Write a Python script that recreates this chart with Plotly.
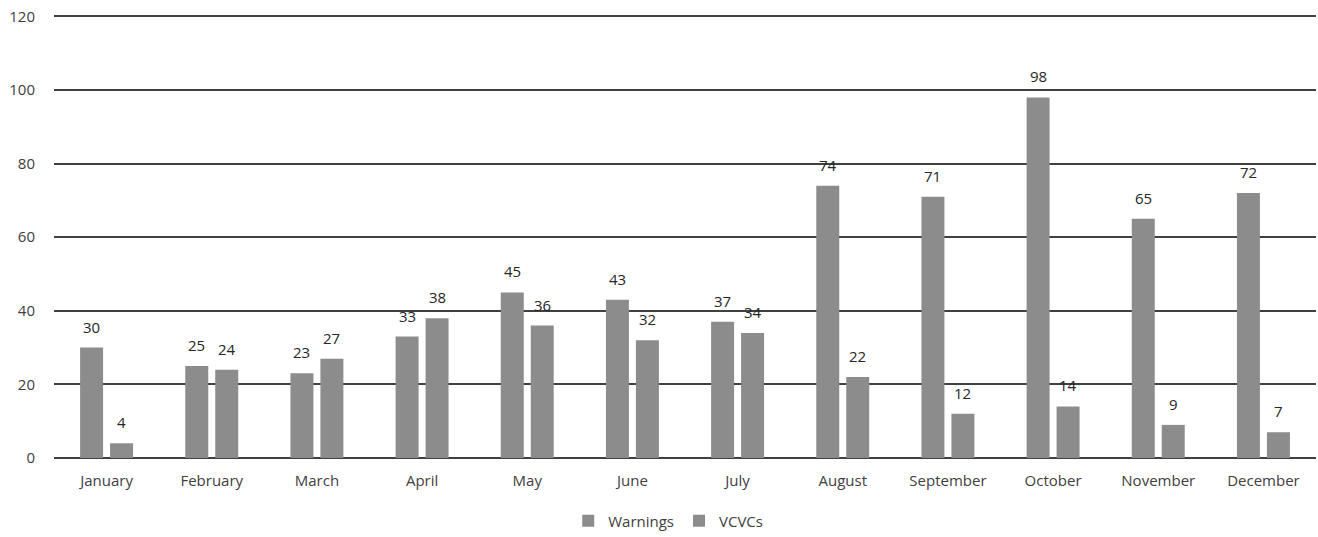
import plotly.graph_objects as go

months = ["January", "February", "March", "April", "May", "June", "July",
          "August", "September", "October", "November", "December"]
warnings = [30, 25, 23, 33, 45, 43, 37, 74, 71, 98, 65, 72]
vcvcs = [4, 24, 27, 38, 36, 32, 34, 22, 12, 14, 9, 7]
y_ticks = [0, 20, 40, 60, 80, 100, 120]

bar_color = "#8c8c8c"
text_color = "#404040"
label_color = "#262626"
font_family = "Open Sans, Liberation Sans, sans-serif"
fsize = 15

W, H = 1318, 537

fig = go.Figure()
fig.add_trace(go.Bar(name="Warnings", x=months, y=warnings, marker_color=bar_color,
                     marker_line_width=0))
fig.add_trace(go.Bar(name="VCVCs", x=months, y=vcvcs, marker_color=bar_color,
                     marker_line_width=0))

# data labels above each bar (offset left/right for the two grouped series)
for series, dx in ((warnings, -15), (vcvcs, 15)):
    for m, v in zip(months, series):
        fig.add_annotation(x=m, y=v, text=str(v), showarrow=False,
                           xshift=dx, yanchor="bottom", yshift=9,
                           font=dict(size=fsize, color=label_color))

fig.update_layout(
    width=W, height=H,
    barmode="group", bargap=0.43, bargroupgap=0.233,
    plot_bgcolor="white", paper_bgcolor="white",
    margin=dict(l=54, r=2, t=15, b=79, autoexpand=False),
    font=dict(family=font_family, size=fsize, color=text_color),
    showlegend=True,
    legend=dict(orientation="h", x=0.507, xanchor="center", xref="container",
                y=16 / H, yanchor="middle", yref="container",
                font=dict(size=fsize, color=text_color), itemsizing="constant",
                entrywidth=0, itemwidth=30),
)
fig.update_yaxes(range=[0, 120.4], tickvals=y_ticks, showgrid=True, automargin=False,
                 gridcolor="#404040", gridwidth=1.5, zeroline=True,
                 zerolinecolor="#404040", zerolinewidth=1.5, showline=False,
                 ticks="", ticklabelstandoff=18, tickfont=dict(size=fsize, color=text_color))
fig.update_xaxes(showgrid=False, showline=False, ticks="", ticklabelstandoff=12,
                 automargin=False, tickfont=dict(size=fsize, color=text_color))

fig.write_html("out.html", config={"displayModeBar": False},
               post_script="document.body.style.margin='0px';document.body.style.overflow='hidden';")
